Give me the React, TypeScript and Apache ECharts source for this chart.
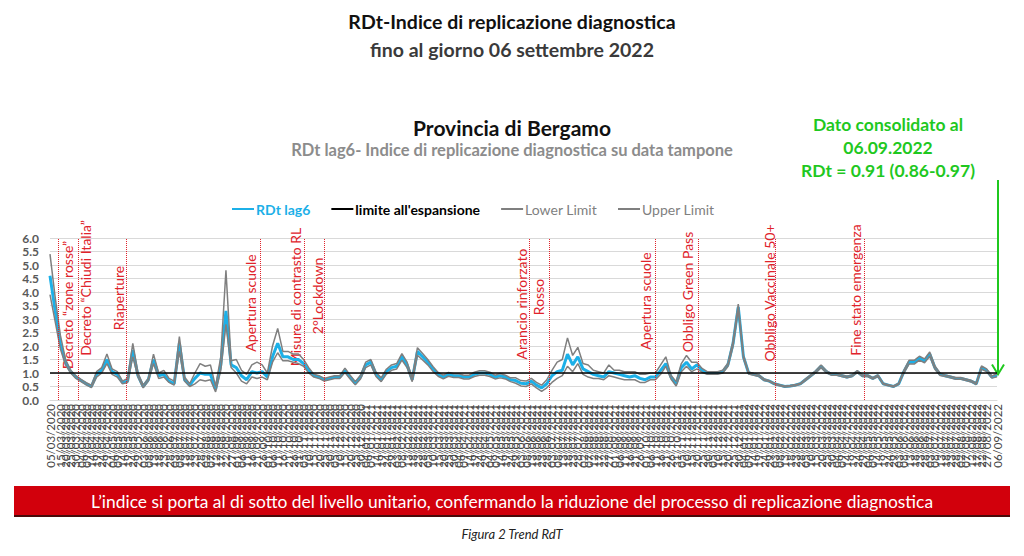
import React, { useEffect, useRef } from "react";
import * as echarts from "echarts";

// ---- categories: daily dates from 05/03/2020 to 06/09/2022 ----
const START_UTC = Date.UTC(2020, 2, 5);
const N_DAYS = 916;
const pad = (n: number) => (n < 10 ? "0" + n : "" + n);
const dates: string[] = [];
for (let i = 0; i < N_DAYS; i++) {
  const d = new Date(START_UTC + i * 86400000);
  dates.push(`${pad(d.getUTCDate())}/${pad(d.getUTCMonth() + 1)}/${d.getUTCFullYear()}`);
}
// values are read every 5 days (same dates as the tick labels)
const sampleDates = dates.filter((_, i) => i % 5 === 0);

const rdt = [
  4.6, 3.3, 2.1, 1.4, 1.05, 0.85, 0.72, 0.6, 0.5, 0.95,
  1.1, 1.5, 1.05, 0.95, 0.65, 0.7, 1.85, 0.9, 0.5, 0.75,
  1.5, 0.9, 0.95, 0.7, 0.6, 2.1, 0.75, 0.55, 0.8, 1.0,
  0.95, 0.95, 0.4, 1.3, 3.3, 1.3, 1.2, 0.9, 0.75, 1.05,
  1.0, 1.05, 0.85, 1.6, 2.1, 1.6, 1.6, 1.5, 1.5, 1.35,
  1.1, 0.9, 0.85, 0.75, 0.8, 0.85, 0.85, 1.1, 0.85, 0.62,
  0.85, 1.3, 1.4, 0.95, 0.75, 1.05, 1.2, 1.25, 1.6, 1.3,
  0.75, 1.8, 1.6, 1.4, 1.15, 0.95, 0.85, 0.95, 0.9, 0.9,
  0.85, 0.85, 0.95, 1.0, 1.0, 0.95, 0.85, 0.9, 0.85, 0.75,
  0.72, 0.62, 0.6, 0.7, 0.55, 0.45, 0.6, 0.9, 1.05, 1.1,
  1.7, 1.3, 1.6, 1.15, 1.05, 0.95, 0.9, 0.85, 1.05, 1.0,
  0.95, 0.9, 0.85, 0.9, 0.8, 0.75, 0.85, 0.85, 1.1, 1.35,
  0.85, 0.6, 1.2, 1.4, 1.15, 1.3, 1.1, 1.0, 1.0, 1.0,
  1.05, 1.3, 2.1, 3.45, 1.6, 1.0, 0.95, 0.9, 0.75, 0.7,
  0.6, 0.55, 0.5, 0.52, 0.55, 0.6, 0.75, 0.9, 1.05, 1.25,
  1.05, 0.95, 0.95, 0.9, 0.85, 0.9, 1.05, 0.9, 0.9, 0.8,
  0.9, 0.6, 0.55, 0.5, 0.6, 1.05, 1.4, 1.4, 1.55, 1.45,
  1.7, 1.2, 0.95, 0.9, 0.85, 0.8, 0.8, 0.75, 0.7, 0.6,
  1.2, 1.1, 0.85, 0.91,
];

const lowerLimit = [
  3.9, 2.9, 1.9, 1.3, 1.0, 0.8, 0.68, 0.56, 0.46, 0.85,
  1.0, 1.35, 0.95, 0.85, 0.6, 0.65, 1.6, 0.85, 0.45, 0.7,
  1.35, 0.8, 0.85, 0.65, 0.55, 1.8, 0.7, 0.5, 0.6, 0.75,
  0.7, 0.75, 0.3, 1.1, 2.8, 1.2, 1.0, 0.7, 0.6, 0.85,
  0.8, 0.85, 0.75, 1.4, 1.75, 1.45, 1.45, 1.4, 1.35, 1.25,
  1.0, 0.85, 0.8, 0.7, 0.75, 0.8, 0.8, 1.02, 0.78, 0.56,
  0.78, 1.2, 1.3, 0.87, 0.68, 0.96, 1.1, 1.15, 1.48, 1.2,
  0.68, 1.66, 1.48, 1.3, 1.06, 0.88, 0.78, 0.88, 0.83, 0.83,
  0.78, 0.78, 0.87, 0.92, 0.92, 0.87, 0.78, 0.82, 0.78, 0.68,
  0.62, 0.52, 0.5, 0.6, 0.45, 0.32, 0.45, 0.65, 0.8, 0.9,
  1.25, 1.05, 1.35, 0.95, 0.85, 0.8, 0.8, 0.75, 0.9, 0.85,
  0.8, 0.75, 0.75, 0.75, 0.65, 0.65, 0.75, 0.75, 0.95, 1.25,
  0.78, 0.52, 1.05, 1.25, 1.05, 1.15, 1.03, 0.95, 0.95, 0.95,
  1.0, 1.24, 2.0, 3.35, 1.54, 0.96, 0.92, 0.87, 0.72, 0.68,
  0.58, 0.53, 0.48, 0.5, 0.53, 0.58, 0.72, 0.87, 1.01, 1.2,
  1.01, 0.92, 0.92, 0.87, 0.82, 0.87, 1.01, 0.87, 0.87, 0.77,
  0.87, 0.58, 0.53, 0.48, 0.58, 1.0, 1.33, 1.33, 1.48, 1.38,
  1.62, 1.14, 0.91, 0.87, 0.82, 0.77, 0.77, 0.72, 0.67, 0.57,
  1.14, 1.05, 0.81, 0.86,
];

const upperLimit = [
  5.4, 3.8, 2.4, 1.5, 1.1, 0.9, 0.76, 0.64, 0.55, 1.05,
  1.2, 1.7, 1.15, 1.05, 0.7, 0.8, 2.1, 1.0, 0.55, 0.8,
  1.7, 1.0, 1.1, 0.8, 0.7, 2.35, 0.85, 0.6, 1.0, 1.35,
  1.25, 1.3, 0.5, 1.6, 4.8, 1.45, 1.5, 1.1, 0.95, 1.3,
  1.4, 1.3, 1.0, 2.0, 2.65, 1.8, 1.8, 1.7, 1.7, 1.5,
  1.2, 0.95, 0.9, 0.8, 0.85, 0.9, 0.9, 1.18, 0.92, 0.68,
  0.92, 1.4, 1.5, 1.03, 0.82, 1.14, 1.3, 1.35, 1.72, 1.4,
  0.82, 1.94, 1.72, 1.5, 1.24, 1.02, 0.92, 1.02, 0.97, 0.97,
  0.92, 0.92, 1.03, 1.08, 1.08, 1.03, 0.92, 0.98, 0.92, 0.82,
  0.82, 0.72, 0.7, 0.8, 0.65, 0.55, 0.75, 1.1, 1.4, 1.5,
  2.3, 1.65, 1.95, 1.35, 1.3, 1.1, 1.05, 1.0, 1.3, 1.1,
  1.1, 1.05, 1.05, 1.05, 0.95, 0.95, 1.0, 1.0, 1.3, 1.6,
  0.92, 0.68, 1.35, 1.65, 1.4, 1.4, 1.17, 1.05, 1.05, 1.05,
  1.1, 1.36, 2.2, 3.55, 1.66, 1.04, 0.98, 0.93, 0.78, 0.72,
  0.62, 0.57, 0.52, 0.54, 0.57, 0.62, 0.78, 0.93, 1.09, 1.3,
  1.09, 0.98, 0.98, 0.93, 0.88, 0.93, 1.09, 0.93, 0.93, 0.83,
  0.93, 0.62, 0.57, 0.52, 0.62, 1.1, 1.47, 1.47, 1.62, 1.52,
  1.78, 1.26, 0.99, 0.93, 0.88, 0.83, 0.83, 0.78, 0.73, 0.63,
  1.26, 1.15, 0.89, 0.97,
];

const LIMIT_VALUE = 1.0;

const eventDates = [
  "13/03/2020", "01/04/2020", "18/05/2020", "24/09/2020", "06/11/2020", "25/11/2020",
  "11/06/2021", "30/06/2021", "11/10/2021", "21/11/2021", "04/02/2022", "01/05/2022",
];
const eventLabels = [
  "Decreto “zone rosse”", "Decreto “Chiudi Italia”", "Riaperture", "Apertura scuole",
  "Misure di contrasto RL", "2°Lockdown", "Arancio rinforzato", "Rosso",
  "Apertura scuole", "Obbligo Green Pass", "Obbligo Vaccinale 50+", "Fine stato emergenza",
];
// layout of the event labels (pixel offset from the line, vertical centre)
const eventLabelDx = [9, 8, -8, -10, -9, -7, -8, -10, -10, -10, -6, -9];
const eventLabelCy = [305, 288, 298, 303, 297, 296, 304, 297, 301, 292, 293, 290];

const FONT = "Lato, 'Open Sans', sans-serif";
const BLUE = "#1CB0E8";
const GRAY = "#7f7f7f";
const GREEN = "#1fc81f";
const RED = "#e0232b";

export default function App() {
  const ref = useRef<HTMLDivElement>(null);

  useEffect(() => {
    if (!ref.current) return;
    const chart = echarts.init(ref.current, undefined, { renderer: "svg" });

    const toData = (arr: number[]) => arr.map((v, i) => [sampleDates[i], v]);

    chart.setOption({
      animation: false,
      textStyle: { fontFamily: FONT },
      grid: { left: 50, right: 27, top: 238, bottom: 156, containLabel: false },
      legend: {
        left: 226,
        top: 197,
        itemWidth: 22,
        itemGap: 20,
        itemStyle: { opacity: 0 },
        textStyle: { fontSize: 14, fontFamily: FONT, padding: [0, 0, 0, -3] },
        data: [
          { name: "RDt lag6", textStyle: { color: BLUE, fontWeight: "bold" } },
          { name: "limite all'espansione", textStyle: { color: "#000", fontWeight: "bold" } },
          { name: "Lower Limit", textStyle: { color: GRAY } },
          { name: "Upper Limit", textStyle: { color: GRAY } },
        ],
      },
      xAxis: {
        type: "category",
        data: dates,
        boundaryGap: false,
        axisLine: { show: true, lineStyle: { color: "#d9d9d9" } },
        axisTick: { show: false },
        splitLine: { show: false },
        axisLabel: {
          interval: 4,
          rotate: 90,
          fontSize: 11.5,
          color: "#444",
          margin: 4,
          hideOverlap: false,
          showMinLabel: true,
          showMaxLabel: true,
          fontFamily: FONT,
        },
      },
      yAxis: {
        type: "value",
        min: 0,
        max: 6,
        interval: 0.5,
        axisLine: { show: false },
        axisTick: { show: false },
        splitLine: { lineStyle: { color: "#d9d9d9", width: 1 } },
        axisLabel: {
          formatter: (v: number) => v.toFixed(1),
          color: "#595959",
          fontWeight: "bold",
          fontSize: 12,
          margin: 11,
          fontFamily: FONT,
        },
      },
      series: [
        {
          name: "RDt lag6",
          type: "line",
          data: toData(rdt),
          symbol: "none",
          lineStyle: { color: BLUE, width: 3 },
          itemStyle: { color: BLUE },
          z: 2,
          markLine: {
            silent: true,
            symbol: "none",
            label: { show: false },
            lineStyle: { color: RED, type: "dotted", width: 1 },
            data: eventDates.map((d) => ({ xAxis: d })),
          },
        },
        {
          name: "Lower Limit",
          type: "line",
          data: toData(lowerLimit),
          symbol: "none",
          lineStyle: { color: GRAY, width: 1.5 },
          itemStyle: { color: GRAY },
          z: 3,
        },
        {
          name: "Upper Limit",
          type: "line",
          data: toData(upperLimit),
          symbol: "none",
          lineStyle: { color: GRAY, width: 1.5 },
          itemStyle: { color: GRAY },
          z: 3,
        },
        {
          name: "limite all'espansione",
          type: "line",
          data: [
            [dates[0], LIMIT_VALUE],
            [dates[dates.length - 1], LIMIT_VALUE],
          ],
          symbol: "none",
          lineStyle: { color: "#000", width: 1.5 },
          itemStyle: { color: "#000" },
          z: 5,
        },
      ],
    });

    // annotations positioned through the chart's own axes
    const graphics: any[] = [];
    const txt = (text: string, x: number, y: number, size: number, weight: string, fill: string, extra: any = {}) => ({
      type: "text",
      x,
      y,
      silent: true,
      style: {
        text,
        fill,
        fontSize: size,
        fontWeight: weight,
        fontFamily: FONT,
        textAlign: "center",
        textVerticalAlign: "middle",
        ...extra,
      },
    });

    graphics.push(txt("RDt-Indice di replicazione diagnostica", 512, 21, 19.5, "bold", "#111"));
    graphics.push(txt("fino al giorno 06 settembre 2022", 512, 49, 19.5, "bold", "#3a3a3a"));
    graphics.push(txt("Provincia di Bergamo", 512, 127, 21, "bold", "#111"));
    graphics.push(txt("RDt lag6- Indice di replicazione diagnostica su data tampone", 512, 150, 16.5, "bold", "#8c8c8c"));
    graphics.push(txt("Dato consolidato al", 888, 124, 17.5, "bold", GREEN));
    graphics.push(txt("06.09.2022", 888, 147, 17.5, "bold", GREEN));
    graphics.push(txt("RDt = 0.91 (0.86-0.97)", 888, 170, 17.5, "bold", GREEN));

    eventDates.forEach((d, i) => {
      const px = chart.convertToPixel({ xAxisIndex: 0 }, d) as number;
      graphics.push({
        type: "text",
        x: px + eventLabelDx[i],
        y: eventLabelCy[i],
        rotation: Math.PI / 2,
        silent: true,
        style: {
          text: eventLabels[i],
          fill: RED,
          fontSize: 14,
          fontFamily: FONT,
          textAlign: "center",
          textVerticalAlign: "middle",
        },
      });
    });

    const last = chart.convertToPixel({ seriesIndex: 0 }, [sampleDates[sampleDates.length - 1], rdt[rdt.length - 1]]) as number[];
    if (last) {
      const ax = last[0] + 1;
      const ay = last[1];
      graphics.push({
        type: "line",
        silent: true,
        shape: { x1: ax, y1: 180, x2: ax, y2: ay - 1 },
        style: { stroke: GREEN, lineWidth: 2 },
      });
      graphics.push({
        type: "polyline",
        silent: true,
        shape: { points: [[ax - 6, ay - 11], [ax, ay - 1], [ax + 6, ay - 11]] },
        style: { stroke: GREEN, lineWidth: 2, fill: null },
      });
    }

    graphics.push({ type: "rect", silent: true, shape: { x: 14, y: 486, width: 996, height: 31 }, style: { fill: "#d2000c" } });
    graphics.push({ type: "rect", silent: true, shape: { x: 14, y: 515, width: 996, height: 2 }, style: { fill: "#4a0a0a" } });
    graphics.push(
      txt(
        "L’indice si porta al di sotto del livello unitario, confermando la riduzione del processo di replicazione diagnostica",
        512, 501, 17.4, "normal", "#ffffff"
      )
    );
    graphics.push(txt("Figura 2 Trend RdT", 512, 534, 13, "normal", "#222", { fontStyle: "italic" }));

    chart.setOption({ graphic: graphics });

    return () => chart.dispose();
  }, []);

  return (
    <div
      ref={ref}
      style={{ position: "fixed", left: 0, top: 0, width: 1024, height: 556, background: "#fff" }}
    />
  );
}
